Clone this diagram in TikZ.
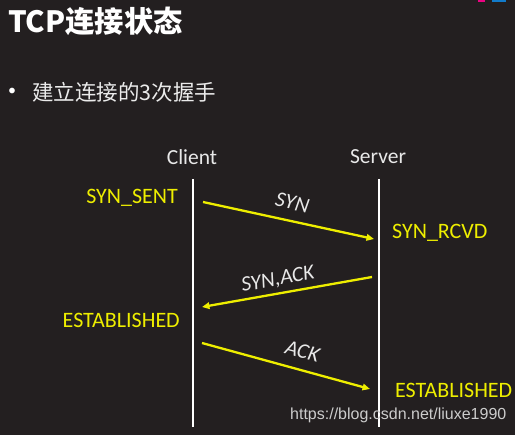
\documentclass[tikz,border=0pt]{standalone}
\usepackage{fontspec}
\setmainfont{Carlito}
\newfontfamily\cjk{Noto Sans CJK SC}
\newfontfamily\wmfont{Liberation Sans}
\usetikzlibrary{arrows.meta}
\definecolor{bg}{HTML}{231F20}
\definecolor{ylw}{HTML}{EEEE00}
\definecolor{lbl}{HTML}{E8E8E8}
\tikzset{
  state/.style={text=ylw, font=\fontsize{22}{26}\selectfont, inner sep=0pt},
  actor/.style={text=lbl, font=\fontsize{21.5}{26}\selectfont, inner sep=0pt},
  msg/.style={draw=ylw, line width=2.3pt, -{Triangle[length=7.5pt,width=6.5pt]}},
  msglabel/.style={text=lbl, font=\itshape\fontsize{21.5}{26}\selectfont, sloped, inner sep=0pt},
  lifeline/.style={draw=white, line width=1.5pt}
}
\begin{document}
\begin{tikzpicture}[x=1pt,y=-1pt]
\fill[bg] (0,0) rectangle (515,435);
\useasboundingbox (0,0) rectangle (515,435);
% cropped logo fragments
\fill[magenta!90!red] (478,0) rectangle (485,2.5);
\fill[cyan!60!blue] (492,0) rectangle (506,2.5);
% title
\node[anchor=west, text=white, inner sep=0pt, font=\cjk\bfseries\fontsize{29.3}{34}\selectfont] (title) at (8,21) {TCP连接状态};
\node[text=white, inner sep=0pt, font=\fontsize{16}{18}\selectfont] (bullet) at (12,92) {•};
\node[anchor=west, text=white!92!black, inner sep=0pt, font=\cjk\fontsize{21.5}{24}\selectfont] (sub) at (32,92) {建立连接的3次握手};
% actors
\node[actor] (client) at (192,157) {Client};
\node[actor] (server) at (378,157) {Server};
\coordinate (ctop) at (193,179);
\coordinate (cbot) at (193,427);
\coordinate (stop) at (379,179);
\coordinate (sbot) at (379,427);
\draw[lifeline] (ctop) -- (cbot);
\draw[lifeline] (stop) -- (sbot);
% states
\node[state, anchor=east] (synsent) at (178,198) {SYN\_SENT};
\node[state, anchor=west] (synrcvd) at (392,233) {SYN\_RCVD};
\node[state, anchor=east] (estc) at (180,320) {ESTABLISHED};
\node[state, anchor=west] (ests) at (395,390) {ESTABLISHED};
% messages
\coordinate (a1) at (203,202);
\coordinate (b1) at (374,239);
\coordinate (a2) at (372,277);
\coordinate (b2) at (202,307);
\coordinate (a3) at (202,343);
\coordinate (b3) at (370,389);
\draw[msg] (a1) -- node[msglabel, above=10pt] (l1) {SYN} (b1);
\draw[msg] (a2) -- node[msglabel, above=4pt, pos=0.54] (l2) {SYN,ACK} (b2);
\draw[msg] (a3) -- node[msglabel, above=10pt, pos=0.57] (l3) {ACK} (b3);
% watermark
\node[anchor=west, text=white!80!black, inner sep=0pt, font=\wmfont\fontsize{16}{18}\selectfont] (wm) at (290,415) {https://blog.csdn.net/liuxe1990};
\end{tikzpicture}
\end{document}
